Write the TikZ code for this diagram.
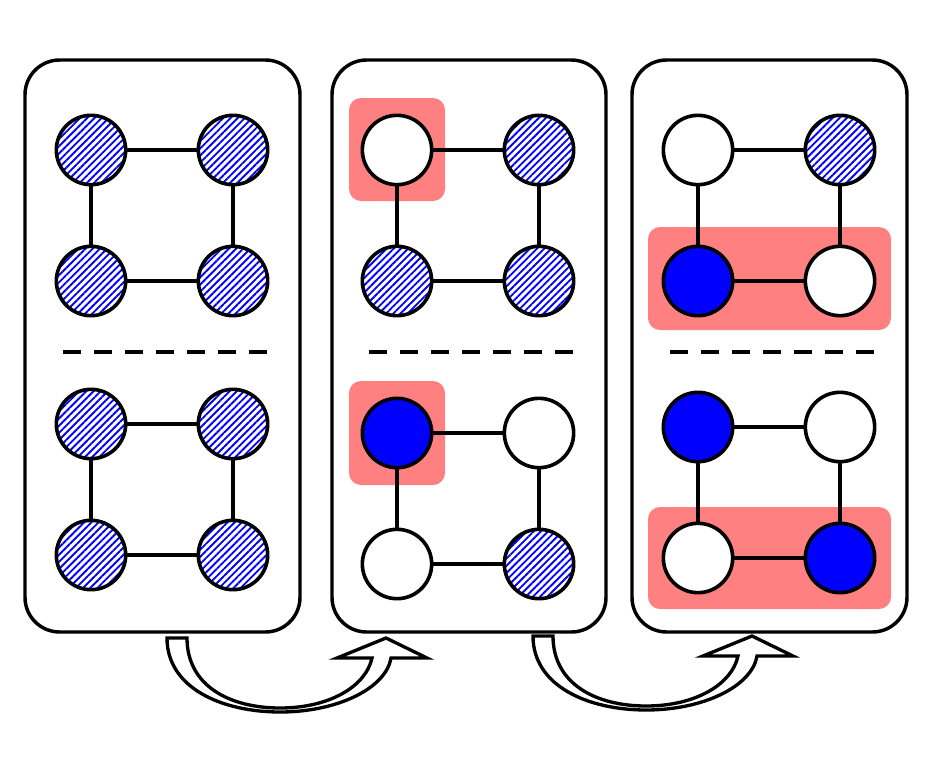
\documentclass[tikz,border=0pt]{standalone}
\usetikzlibrary{patterns.meta}

\definecolor{resalte}{RGB}{255,128,128}

\tikzset{
    vertice/.style={circle, draw, line width=2.7pt, minimum size=52pt, inner sep=0pt},
    rayado/.style={vertice, pattern={Lines[angle=45, distance=3.8pt, line width=1.4pt]}, pattern color=blue},
    lleno/.style={vertice, fill=blue},
    vacio/.style={vertice, fill=white},
    arista/.style={line width=2.5pt},
    panel/.style={line width=2.6pt, rounded corners=26pt},
    marca/.style={fill=resalte, rounded corners=9pt},
    separador/.style={line width=2.7pt, dash pattern=on 13.5pt off 9.75pt},
    flecha/.style={line width=2.5pt, fill=white, line join=miter},
}

% Un cuadrado de cuatro vertices: nombre, esquina superior izquierda y estilos.
\newcommand{\cuadro}[7]{
    \node[#4] (#1a) at (#2,#3) {};
    \node[#5] (#1b) at (#2+142,#3) {};
    \node[#6] (#1c) at (#2,#3+131) {};
    \node[#7] (#1d) at (#2+142,#3+131) {};
    \draw[arista] (#1a) -- (#1b);
    \draw[arista] (#1a) -- (#1c);
    \draw[arista] (#1b) -- (#1d);
    \draw[arista] (#1c) -- (#1d);
}

% Flecha curva hueca, desplazada por (dx,dy).
\newcommand{\flechacurva}[1]{
    \draw[flecha, shift={#1}] (167,638)
        .. controls (167,688) and (222,712) .. (280,712)
        .. controls (338,712) and (386,688) .. (391,658)
        -- (427,658) -- (386,638) -- (337,658) -- (372,658)
        .. controls (366,686) and (330,708) .. (280,708)
        .. controls (230,708) and (187,686) .. (187,638) -- cycle;
}

\begin{document}
\begin{tikzpicture}[x=0.75pt, y=-0.75pt]
        \useasboundingbox (0,0) rectangle (931,757);

        % Dibuja los tres paneles.
        \draw[panel] (25,60) rectangle (300,632);
        \draw[panel] (332,60) rectangle (606,632);
        \draw[panel] (632,60) rectangle (907,632);

        % Marca en rojo los vertices elegidos.
        \fill[marca] (349,98) rectangle (445,201);
        \fill[marca] (349,381) rectangle (445,485);
        \fill[marca] (648,227) rectangle (891,330);
        \fill[marca] (648,507) rectangle (891,609);

        % Separa las dos mitades de cada panel.
        \draw[separador] (63,352) -- (272,352);
        \draw[separador] (369,352) -- (578,352);
        \draw[separador] (670,352) -- (879,352);

        % Panel 1: todo rayado.
        \cuadro{p}{91}{150}{rayado}{rayado}{rayado}{rayado}
        \cuadro{q}{91}{424}{rayado}{rayado}{rayado}{rayado}

        % Panel 2: se fija el primer vertice.
        \cuadro{r}{397}{150}{vacio}{rayado}{rayado}{rayado}
        \cuadro{s}{397}{433}{lleno}{vacio}{vacio}{rayado}

        % Panel 3: se fija la segunda fila.
        \cuadro{t}{698}{150}{vacio}{rayado}{lleno}{vacio}
        \cuadro{u}{698}{427}{lleno}{vacio}{vacio}{lleno}

        % Flechas entre paneles.
        \flechacurva{(0,0)}
        \flechacurva{(366,-2)}
    \end{tikzpicture}
\end{document}
